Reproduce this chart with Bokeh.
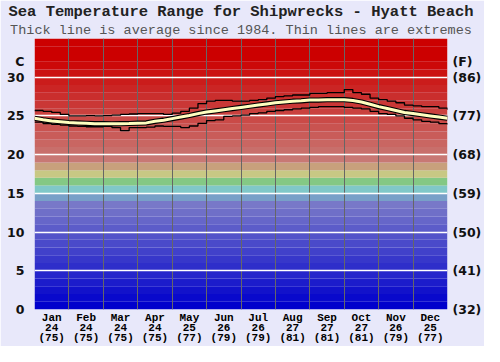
from bokeh.plotting import figure
from bokeh.models import Range1d, LinearAxis, FixedTicker, Label, Title, ColumnDataSource
from bokeh.embed import file_html
from bokeh.resources import INLINE

# ---- data ----
months = ["Jan", "Feb", "Mar", "Apr", "May", "Jun", "Jul", "Aug", "Sep", "Oct", "Nov", "Dec"]
month_avg_c = [24, 24, 24, 24, 25, 26, 26, 27, 27, 27, 26, 25]
month_avg_f = [75, 75, 75, 75, 77, 79, 79, 81, 81, 81, 79, 77]
c_ticks = [0, 5, 10, 15, 20, 25, 30]
f_labels = ["(32)", "(41)", "(50)", "(59)", "(68)", "(77)", "(86)"]

# quarter-month positions (month 1 = Jan centre, edges at 0.5 .. 12.5)
pos = [0.5 + i * 0.25 for i in range(49)]
avg_line = [24.7, 24.5, 24.35, 24.25, 24.15, 24.1, 24.05, 24.0, 24.0, 23.98, 24.0, 24.02,
            24.07, 24.1, 24.3, 24.45, 24.65, 24.85, 25.05, 25.3, 25.5, 25.65, 25.8, 25.95,
            26.1, 26.25, 26.4, 26.55, 26.7, 26.8, 26.9, 26.95, 27.05, 27.05, 27.1, 27.1,
            27.1, 27.0, 26.8, 26.5, 26.2, 25.95, 25.7, 25.45, 25.3, 25.15, 25.0, 24.85, 24.7]
max_line = [25.7, 25.6, 25.45, 25.2, 25.0, 25.0, 25.05, 25.0, 25.05, 25.1, 25.2, 25.25,
            25.3, 25.3, 25.3, 25.2, 25.35, 25.6, 26.0, 26.6, 26.9, 27.0, 27.0, 26.9,
            26.9, 27.0, 27.1, 27.3, 27.5, 27.6, 27.7, 27.7, 27.9, 27.9, 28.0, 28.0,
            28.4, 28.0, 27.8, 27.3, 27.1, 26.9, 26.7, 26.4, 26.3, 26.2, 26.2, 26.0, 25.8]
min_line = [24.2, 24.0, 23.9, 23.8, 23.7, 23.65, 23.6, 23.6, 23.65, 23.5, 23.1, 23.5,
            23.5, 23.55, 23.7, 23.65, 23.65, 23.5, 23.7, 24.05, 24.4, 24.5, 24.95, 25.0,
            25.1, 25.3, 25.4, 25.6, 25.7, 25.8, 25.9, 26.0, 26.1, 26.2, 26.2, 26.2,
            26.1, 26.0, 25.9, 25.6, 25.3, 25.2, 25.0, 24.7, 24.5, 24.3, 24.2, 24.0, 23.9]

# colour scale bands (one per degree C)
def mix(c1, c2, t):
    return "#%02x%02x%02x" % tuple(int(round(a + (b - a) * t)) for a, b in zip(c1, c2))

band_colors = []
for d in range(35):
    if d <= 13:
        band_colors.append(mix((0, 0, 204), (120, 120, 200), d / 13))
    elif d == 14:
        band_colors.append("#78a0c8")
    elif d == 15:
        band_colors.append("#80c8c8")
    elif d == 16:
        band_colors.append("#84c884")
    elif d == 17:
        band_colors.append("#c8c884")
    elif d == 18:
        band_colors.append("#c8a07c")
    elif d <= 32:
        band_colors.append(mix((200, 120, 116), (204, 0, 0), (d - 19) / 13))
    else:
        band_colors.append("#cc0000")

BG = "#e8e8fa"
p = figure(width=484, height=346, x_range=Range1d(0.5, 12.5), y_range=Range1d(0, 35),
           output_backend="svg", toolbar_location=None,
           min_border_left=34, min_border_right=37, min_border_top=4, min_border_bottom=4,
           background_fill_color=BG, border_fill_color=BG, outline_line_color=None)

p.title = Title(text="Sea Temperature Range for Shipwrecks - Hyatt Beach", align="center",
                text_font="Liberation Mono", text_font_size="15.5px",
                text_font_style="bold", text_color="#222222", standoff=0)
p.add_layout(Title(text="Thick line is average since 1984. Thin lines are extremes",
                   align="center", text_font="Liberation Mono", text_font_size="13.5px",
                   text_font_style="normal", text_color="#555555", standoff=1), "above")

bands = ColumnDataSource(dict(bottom=list(range(35)), top=list(range(1, 36)), color=band_colors))
r = p.quad(left=0.5, right=12.5, bottom="bottom", top="top", fill_color="color",
           line_color=None, source=bands)
r.level = "image"

# grids
p.xgrid.ticker = FixedTicker(ticks=[0.5 + i for i in range(13)])
p.xgrid.grid_line_color = "#666666"
p.xgrid.grid_line_width = 1
p.ygrid.ticker = FixedTicker(ticks=c_ticks[1:])
p.ygrid.grid_line_color = "white"
p.ygrid.grid_line_width = 1.5

# lines
p.step(pos, max_line, mode="after", line_color="black", line_width=1.3)
p.step(pos, min_line, mode="after", line_color="black", line_width=1.3)
p.line(pos, avg_line, line_color="black", line_width=5.2)
p.line(pos, avg_line, line_color="#ffffc0", line_width=3.0)

# axes
def style_axis(ax):
    ax.axis_line_color = None
    ax.major_tick_line_color = None
    ax.minor_tick_line_color = None
    ax.major_tick_out = 0
    ax.major_tick_in = 0
    ax.minor_tick_out = 0
    ax.minor_tick_in = 0

yl = p.yaxis[0]
yl.ticker = FixedTicker(ticks=c_ticks + [32])
yl.major_label_overrides = {t: str(t) for t in c_ticks} | {32: "C"}
yl.major_label_text_font = "DejaVu Sans"
yl.major_label_text_font_size = "12.5px"
yl.major_label_text_font_style = "bold"
yl.major_label_text_color = "#111111"
yl.major_label_standoff = 10
style_axis(yl)

yr = LinearAxis(ticker=FixedTicker(ticks=c_ticks + [32]),
                major_label_overrides={t: f for t, f in zip(c_ticks, f_labels)} | {32: "(F)"})
yr.major_label_text_font = "DejaVu Sans"
yr.major_label_text_font_size = "12.5px"
yr.major_label_text_font_style = "bold"
yr.major_label_text_color = "#111111"
yr.major_label_standoff = 5
style_axis(yr)
p.add_layout(yr, "right")

xa = p.xaxis[0]
xa.ticker = FixedTicker(ticks=list(range(1, 13)))
xa.major_label_overrides = {i + 1: "%s\n%d\n(%d)" % (m, c, f)
                            for i, (m, c, f) in enumerate(zip(months, month_avg_c, month_avg_f))}
xa.major_label_text_font = "Liberation Mono"
xa.major_label_text_font_size = "11px"
xa.major_label_text_font_style = "bold"
xa.major_label_text_color = "black"
xa.major_label_text_line_height = 0.85
xa.major_label_standoff = 2
style_axis(xa)

p.add_layout(Label(x=0.5, y=0, x_offset=-14, y_offset=-13, text="average\n(F)",
                   text_align="center", text_baseline="top",
                   text_font="Liberation Mono", text_font_size="9.5px",
                   text_font_style="bold", text_color="black", text_line_height=0.9))

open("out.html", "w").write(file_html(p, INLINE))
